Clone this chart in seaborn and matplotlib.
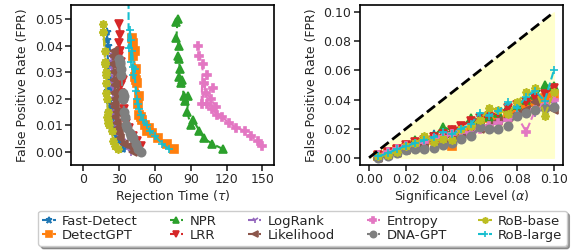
import numpy as np
import pandas as pd
import matplotlib
matplotlib.use("Agg")
import matplotlib.pyplot as plt
import seaborn as sns

alphas = [0.005, 0.01, 0.015, 0.02, 0.025, 0.03, 0.035, 0.04, 0.045, 0.05,
          0.055, 0.06, 0.065, 0.07, 0.075, 0.08, 0.085, 0.09, 0.095, 0.1]

methods = ["Fast-Detect", "DetectGPT", "NPR", "LRR", "LogRank",
           "Likelihood", "Entropy", "DNA-GPT", "RoB-base", "RoB-large"]
markers = ["*", "s", "^", "v", "1", "<", "P", "o", (8, 1, 0), "+"]

fpr_fast = [0.001, 0.004, 0.006, 0.009, 0.008, 0.012, 0.016, 0.015, 0.019, 0.017,
            0.023, 0.024, 0.030, 0.028, 0.033, 0.034, 0.038, 0.040, 0.042, 0.045]
time_fast = [33, 31, 28, 26, 25, 24, 23, 22, 22, 23, 21, 22, 21, 22, 21, 21, 20, 21, 20, 20]

fpr_detectgpt = [0.001, 0.003, 0.005, 0.007, 0.009, 0.010, 0.012, 0.013, 0.008, 0.014,
                 0.018, 0.021, 0.027, 0.026, 0.028, 0.031, 0.036, 0.038, 0.041, 0.043]
time_detectgpt = [76, 70, 63, 58, 55, 52, 49, 48, 53, 47, 46, 47, 44, 45, 43, 44, 42, 43, 42, 41]

fpr_npr = [0.001, 0.003, 0.005, 0.008, 0.012, 0.010, 0.015, 0.021, 0.019, 0.021,
           0.027, 0.026, 0.028, 0.031, 0.035, 0.036, 0.040, 0.043, 0.050, 0.049]
time_npr = [117, 108, 101, 97, 92, 90, 87, 88, 85, 84, 83, 82, 80, 81, 80, 79, 80, 78, 79, 78]

fpr_lrr = [0.002, 0.004, 0.006, 0.009, 0.011, 0.012, 0.014, 0.016, 0.019, 0.022,
           0.025, 0.027, 0.029, 0.031, 0.034, 0.036, 0.038, 0.041, 0.044, 0.048]
time_lrr = [48, 45, 42, 38, 36, 35, 34, 34, 33, 32, 32, 33, 31, 31, 32, 30, 31, 30, 31, 30]

fpr_logrank = [0.000, 0.002, 0.004, 0.006, 0.008, 0.010, 0.011, 0.013, 0.015, 0.017,
               0.014, 0.020, 0.022, 0.024, 0.026, 0.028, 0.030, 0.031, 0.034, 0.037]
time_logrank = [40, 37, 33, 30, 29, 28, 27, 27, 26, 26, 25, 26, 25, 25, 24, 25, 24, 24, 24, 23]

fpr_likelihood = [0.000, 0.002, 0.003, 0.005, 0.007, 0.009, 0.011, 0.013, 0.015, 0.017,
                  0.018, 0.020, 0.022, 0.025, 0.027, 0.030, 0.033, 0.038, 0.036, 0.033]
time_likelihood = [42, 38, 34, 31, 30, 29, 28, 27, 28, 27, 26, 27, 26, 27, 26, 26, 25, 26, 25, 25]

fpr_entropy = [0.002, 0.004, 0.006, 0.008, 0.009, 0.011, 0.013, 0.014, 0.016, 0.018,
               0.017, 0.020, 0.022, 0.024, 0.026, 0.029, 0.018, 0.033, 0.036, 0.040]
time_entropy = [150, 146, 140, 135, 128, 122, 116, 112, 108, 104, 111, 107, 103, 109, 101, 104, 99, 100, 97, 96]

fpr_dna = [0.000, 0.001, 0.003, 0.005, 0.006, 0.006, 0.007, 0.009, 0.010, 0.013,
           0.015, 0.021, 0.020, 0.020, 0.022, 0.029, 0.031, 0.033, 0.034, 0.035]
time_dna = [48, 46, 44, 42, 40, 41, 39, 37, 36, 35, 34, 34, 33, 33, 33, 32, 32, 31, 31, 30]

fpr_robbase = [0.001, 0.002, 0.004, 0.008, 0.010, 0.015, 0.011, 0.013, 0.012, 0.020,
               0.022, 0.026, 0.034, 0.033, 0.030, 0.038, 0.045, 0.048, 0.029, 0.045]
time_robbase = [29, 27, 25, 24, 22, 21, 21, 20, 21, 20, 19, 19, 18, 18, 19, 18, 17, 17, 19, 17]

fpr_roblarge = [0.001, 0.003, 0.006, 0.008, 0.010, 0.012, 0.014, 0.018, 0.016, 0.020,
                0.023, 0.031, 0.029, 0.032, 0.038, 0.034, 0.042, 0.046, 0.039, 0.060]
time_roblarge = [72, 66, 60, 56, 53, 50, 48, 46, 47, 45, 44, 43, 42, 42, 41, 40, 40, 39, 38, 38]

fprs = [fpr_fast, fpr_detectgpt, fpr_npr, fpr_lrr, fpr_logrank,
        fpr_likelihood, fpr_entropy, fpr_dna, fpr_robbase, fpr_roblarge]
times = [time_fast, time_detectgpt, time_npr, time_lrr, time_logrank,
         time_likelihood, time_entropy, time_dna, time_robbase, time_roblarge]

sns.set_theme(style="ticks", palette="tab10")
plt.rcParams["font.family"] = ["DejaVu Sans"]
plt.rcParams["font.size"] = 9
plt.rcParams["axes.linewidth"] = 1.2

fig, (ax1, ax2) = plt.subplots(1, 2, figsize=(5.74, 2.5), dpi=100)
fig.subplots_adjust(left=0.124, right=0.981, top=0.98, bottom=0.34, wspace=0.42)

colors = sns.color_palette("tab10", 10)
for i, m in enumerate(methods):
    df = pd.DataFrame({"time": times[i], "fpr": fprs[i], "alpha": alphas})
    kw = dict(sort=False, estimator=None, errorbar=None, color=colors[i],
              marker=markers[i], linestyle="--", markersize=6, linewidth=1.5,
              markeredgecolor=colors[i], markeredgewidth=1.2)
    sns.lineplot(data=df, x="time", y="fpr", ax=ax1, label=m, **kw)
    sns.lineplot(data=df, x="alpha", y="fpr", ax=ax2, **kw)

ax2.fill_between([0, 0.1], [0, 0], [0, 0.1], color="#ffffcc", zorder=0)
ax2.plot([0, 0.1], [0, 0.1], "k--", linewidth=2)

ax1.set_xlim(-10, 160)
ax1.set_ylim(-0.005, 0.0553)
ax1.set_xticks([0, 30, 60, 90, 120, 150])
ax1.set_yticks([0, 0.01, 0.02, 0.03, 0.04, 0.05])
ax1.set_xlabel(r"Rejection Time ($\tau$)", fontsize=9, labelpad=1)
ax1.set_ylabel("False Positive Rate (FPR)", fontsize=9)

ax2.set_xlim(-0.005, 0.105)
ax2.set_ylim(-0.005, 0.105)
ax2.set_xticks([0, 0.02, 0.04, 0.06, 0.08, 0.1])
ax2.set_yticks([0, 0.02, 0.04, 0.06, 0.08, 0.1])
ax2.set_xlabel(r"Significance Level ($\alpha$)", fontsize=9, labelpad=1)
ax2.set_ylabel("False Positive Rate (FPR)", fontsize=9)

for ax in (ax1, ax2):
    ax.tick_params(labelsize=9, width=1.2, length=4, pad=2)
    for s in ax.spines.values():
        s.set_visible(True)
        s.set_color("black")

handles, labels = ax1.get_legend_handles_labels()
ax1.get_legend().remove()
fig.legend(handles, labels, loc="lower center", ncol=5, bbox_to_anchor=(0.527, -0.01),
           fontsize=9.5, handlelength=1.0, handletextpad=0.5, columnspacing=2.4,
           labelspacing=0.1, borderpad=0.3, shadow=True, frameon=True, markerscale=0.75)

fig.savefig("out.png", dpi=100)
